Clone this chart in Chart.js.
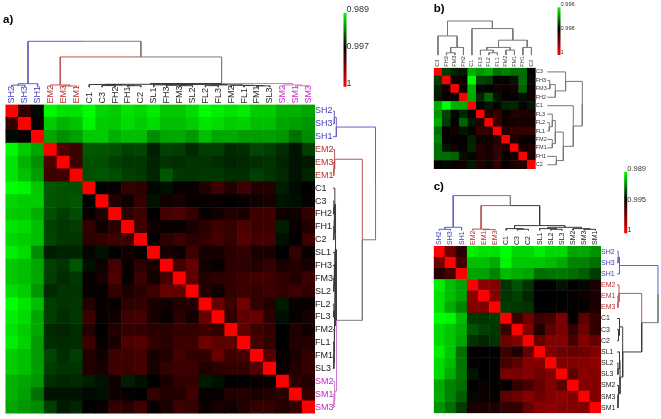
<!DOCTYPE html>
<html>
<head>
<meta charset="utf-8">
<title>Correlation heatmaps</title>
<script src="https://cdn.jsdelivr.net/npm/chart.js@4/dist/chart.umd.min.js"></script>
<style>
  body { margin: 0; background: #fff; }
  #page { position: relative; width: 661px; height: 419px; overflow: hidden; }
  #page canvas { position: absolute; left: 0; top: 0; }
</style>
</head>
<body>
<div id="page"></div>
<script>
// Sample order, same for rows and columns
const labelsA = ['SH2','SH3','SH1','EM2','EM3','EM1','C1','C3','FH2','FH1','C2','SL1','FH3','FM3','SL2','FL2','FL3','FM2','FL1','FM1','SL3','SM2','SM1','SM3'];
const labelsB = ['C3','FH3','FM3','FH2','C1','FL3','FL2','FL1','FM2','FM1','FH1','C2'];
const labelsC = ['SH2','SH3','SH1','EM2','EM1','EM3','C1','C3','C2','SL1','SL2','SL3','SM2','SM3','SM1'];

// Upper triangle of each matrix, as (1 - correlation) x 10^4
const distA = [
  [24,33,108,101,101,110,97,94,102,97,104,93,93,99,110,105,101,104,94,94,86,86,82],
  [29,94,86,91,107,94,93,99,94,99,90,90,94,102,99,94,96,90,90,82,80,77],
  [82,75,80,93,94,85,90,90,74,82,83,77,90,82,83,79,79,80,77,65,74],
  [21,23,58,57,55,50,52,39,50,49,43,49,49,43,44,52,49,44,36,49],
  [23,55,55,49,47,47,41,46,44,46,46,44,41,43,44,46,41,36,38],
  [55,57,54,49,47,41,57,47,46,47,47,44,44,49,46,43,36,41],
  [31,29,24,25,32,35,29,29,26,23,26,23,26,26,39,33,30],
  [26,28,24,36,28,27,29,29,29,30,29,28,27,36,35,29],
  [25,23,30,22,21,24,29,28,26,27,23,23,28,28,24],
  [23,28,29,29,27,25,23,24,21,23,23,39,29,26],
  [30,25,23,25,24,22,24,20,22,22,35,30,23],
  [27,28,23,27,27,25,24,27,27,30,24,29],
  [22,18,28,29,25,25,26,24,27,26,27],
  [19,26,25,24,23,22,23,24,26,23],
  [26,28,24,23,24,23,24,23,24],
  [18,23,17,24,26,38,29,29],
  [24,19,18,25,35,29,27],
  [19,23,24,30,26,28],
  [22,24,30,26,26],
  [20,29,27,24],
  [29,26,24],
  [25,26],
  [24]
];
const distB = [
  [24.7,22.7,22,33.3,31.8,33.3,28.6,30.2,28.6,28.6,19.6],
  [18.4,19.2,40,25.5,24.7,19.6,19.4,21.6,28.6,20.6],
  [19.2,34,20.6,19.8,18.4,19.6,18.4,27.8,19.4],
  [33.3,23,27.8,21.6,19.6,19.6,21,18.8],
  [19.8,22,20.4,22.7,23,20.4,22],
  [17.3,15.7,19.2,17.3,17.6,17.6],
  [16.1,19,18.4,18,18.8],
  [16.9,16.1,16.1,16.1],
  [17.6,19.6,19.6],
  [18.4,17.6],
  [17.6]
];
const distC = [
  [28.4,42,106,103,103,110,101,101,106,101,101,89,90,85],
  [36,95,95,90,108,97,97,97,94,90,81,81,76],
  [89,88,81,94,91,89,76,77,78,76,72,64],
  [22.5,24.5,63,69,62,50,49.6,55,50,52,45],
  [24.5,62,65,59,50,50,50,48.5,48,45],
  [64,63,62,50,50,50,49.5,49,45],
  [38,28.4,38,36,26.5,49,32,40],
  [24.5,44,32,26.5,40,28.4,40],
  [30,24.5,24.5,36,24.5,30],
  [24.5,28.4,30,28.4,24.5],
  [24.5,24.5,24.5,22.5],
  [32,22.5,24.5],
  [24.5,24.5],
  [24.5]
];

// Clusters: [child, child, height on top tree, height on right tree].
// A child is a sample name or the row number of an earlier merge.
const mergesA = [
  ['SH2','SH3',2,1.5], [0,'SH1',3.5,3.5], ['EM3','EM1',1.2,1], ['EM2',2,2.2,1.8],
  ['C3','FH2',1.6,1], ['FH1','C2',1.5,1], [4,5,2,1.5], ['C1',6,2.7,2],
  ['FM3','SL2',1.5,1], ['FH3',8,2,1.5], ['SL1',9,2.3,2],
  ['FL2','FL3',1.5,1], ['FM1','SL3',1.3,1], ['FL1',12,1.6,1.2], ['FM2',13,1.9,1.5], [11,14,2.3,1.8],
  [10,15,2.6,2.3], [7,16,2.9,2.7],
  ['SM1','SM3',1.5,1], ['SM2',18,2.2,1.8],
  [17,19,3.7,3.7], [3,20,30.5,29.7], [1,21,46.3,43]
];
const mergesB = [
  ['FH3','FM3',2.3,2.5], [0,'FH2',7.7,8], ['C3',1,19.3,18.3],
  ['FL2','FL1',2.3,2], ['FL3',3,5,5], ['FM2','FM1',5,5], [4,5,7.7,8],
  ['FH1','C2',7.7,9], [6,7,15,16], ['C1',8,26.7,26], [2,9,34.3,35]
];
const mergesC = [
  ['SH2','SH3',1,1.2], [0,'SH1',3,2.5], ['EM1','EM3',0.7,1], ['EM2',2,1.2,2],
  ['C3','C2',1,1.5], ['C1',4,1.7,2.5], ['SL2','SL3',1,1], ['SL1',6,1.7,2.5],
  ['SM3','SM1',1,1], ['SM2',8,1.7,1.5], [7,9,3,3], [5,10,4.7,5.7],
  [3,11,24.7,24.7], [1,12,34.7,41]
];

// Colour key ticks, top to bottom
const keyTicksA = [0.989, 0.997, 1];
const keyTicksB = [0.996, 0.998, 1];
const keyTicksC = [0.989, 0.995, 1];

const FONT = 'Liberation Sans, Arial, sans-serif';
const page = document.getElementById('page');

function newCanvas() {
    const c = document.createElement('canvas');
    c.width = 661;
    c.height = 419;
    page.appendChild(c);
    return c;
}

// green -> black -> red through the middle tick
function heatColor(r, ticks) {
    const [lo, mid, hi] = ticks;
    if (r >= mid) return `rgb(${Math.round(255 * Math.min(1, (r - mid) / (hi - mid)))},0,0)`;
    return `rgb(0,${Math.round(255 * Math.min(1, (mid - r) / (mid - lo)))},0)`;
}

function cellPoints(labels, dist, ticks) {
    const pts = [];
    labels.forEach((_, i) => {
        labels.forEach((__, j) => {
            let r = 1;
            if (i < j) r = 1 - dist[i][j - i - 1] / 1e4;
            if (i > j) r = 1 - dist[j][i - j - 1] / 1e4;
            pts.push({ x: j + 0.5, y: i + 0.5, color: heatColor(r, ticks) });
        });
    });
    return pts;
}

function treeDatasets(p) {
    const N = p.labels.length;
    const cell = (p.right - p.left) / N;
    const leafCol = (name) => p.treeColors[name.slice(0, 2)] || p.treeColors.other;
    const nodes = [];
    const child = (ref) => {
        if (typeof ref === 'number') return nodes[ref];
        return { pos: p.labels.indexOf(ref) + 0.5, top: 0, side: 0, col: leafCol(ref) };
    };
    const sets = [];
    const link = (pts, col) => sets.push({
        data: pts, showLine: true, pointRadius: 0, borderWidth: 1, borderColor: col, clip: false
    });
    const topY = (h) => -(p.topBand + h) / cell;
    const sideX = (h) => N + (p.sideBand + h) / cell;
    p.merges.forEach(([a, b, top, side]) => {
        const ca = child(a);
        const cb = child(b);
        const mid = (ca.pos + cb.pos) / 2;
        [ca, cb].forEach((c) => {
            // drawn from the joint down to the child
            link([{ x: mid, y: topY(top) }, { x: c.pos, y: topY(top) }, { x: c.pos, y: topY(c.top) }], c.col);
            link([{ x: sideX(side), y: mid }, { x: sideX(side), y: c.pos }, { x: sideX(c.side), y: c.pos }], c.col);
        });
        nodes.push({ pos: mid, top, side, col: ca.col === cb.col ? ca.col : p.treeColors.mixed });
    });
    return sets;
}

function heatChart(p) {
    const N = p.labels.length;
    const cell = (p.right - p.left) / N;
    const titleH = p.titleSize * 1.2;
    const tickColor = (ctx) => {
        const name = p.labels[Math.floor(ctx.tick.value)];
        return p.labelColors[name.slice(0, 2)] || p.labelColors.other;
    };
    const centerTicks = (scale) => {
        scale.ticks = p.labels.map((_, i) => ({ value: i + 0.5 }));
    };
    const tickOpts = {
        autoSkip: false,
        color: tickColor,
        font: { family: FONT, size: p.fontSize },
        callback: (v) => p.labels[Math.floor(v)]
    };
    return new Chart(newCanvas(), {
        type: 'scatter',
        data: {
            datasets: [{
                data: cellPoints(p.labels, p.dist, p.ticks),
                pointStyle: 'rect',
                pointRadius: (cell / 2 + 0.25) * Math.SQRT2,
                pointHoverRadius: 0,
                pointBorderWidth: 0,
                pointBackgroundColor: (ctx) => ctx.raw.color
            }].concat(treeDatasets(p))
        },
        options: {
            responsive: false,
            animation: false,
            events: [],
            layout: {
                autoPadding: false,
                padding: { left: p.left, top: p.titleY - titleH / 2, right: 0, bottom: 419 - p.bottom }
            },
            plugins: {
                legend: { display: false },
                tooltip: { enabled: false },
                title: {
                    display: true,
                    text: p.title,
                    align: 'start',
                    color: '#000',
                    padding: 0,
                    font: { family: FONT, size: p.titleSize, weight: 'bold', lineHeight: 1.2 }
                }
            },
            scales: {
                x: {
                    type: 'linear',
                    position: 'top',
                    min: 0,
                    max: N,
                    grid: { display: false, drawTicks: false },
                    border: { display: false },
                    afterBuildTicks: centerTicks,
                    afterFit: (s) => { s.height = p.top - (p.titleY - titleH / 2) - titleH; },
                    // rotated top labels sit one line height left of the tick
                    ticks: Object.assign({ minRotation: 90, maxRotation: 90, padding: p.tickPad, labelOffset: p.fontSize * 1.2 }, tickOpts)
                },
                y: {
                    type: 'linear',
                    position: 'right',
                    reverse: true,
                    min: 0,
                    max: N,
                    grid: { display: false, drawTicks: false },
                    border: { display: false },
                    afterBuildTicks: centerTicks,
                    afterFit: (s) => { s.width = 661 - p.right; },
                    ticks: Object.assign({ padding: 0 }, tickOpts)
                }
            }
        }
    });
}

// Colour key: one vertical line with a gradient, ticks on its right
function keyChart(k) {
    const ends = [k.barTop, k.barBottom];
    return new Chart(newCanvas(), {
        type: 'scatter',
        data: {
            datasets: [{
                data: ends.map((y) => ({ x: 0.5, y })),
                showLine: true,
                clip: false,
                pointRadius: 0,
                borderWidth: 3,
                borderColor: (ctx) => {
                    const yScale = ctx.chart.scales.y;
                    if (!yScale || !ctx.chart.chartArea) return '#000';
                    const g = ctx.chart.ctx.createLinearGradient(0, yScale.getPixelForValue(ends[0]), 0, yScale.getPixelForValue(ends[1]));
                    g.addColorStop(0, '#00ff00');
                    g.addColorStop((1 - ends[0]) / (ends[1] - ends[0]), '#000000');
                    g.addColorStop(1, '#ff0000');
                    return g;
                }
            }]
        },
        options: {
            responsive: false,
            animation: false,
            events: [],
            layout: {
                autoPadding: false,
                padding: { left: k.x - 1.5, top: k.tickTop, right: 0, bottom: 419 - k.tickBottom }
            },
            plugins: { legend: { display: false }, tooltip: { enabled: false } },
            scales: {
                x: { type: 'linear', display: false, min: 0, max: 1 },
                y: {
                    type: 'linear',
                    position: 'right',
                    reverse: true,
                    min: 0,
                    max: 2,
                    grid: { display: false, drawTicks: false },
                    border: { display: false },
                    afterBuildTicks: (s) => { s.ticks = k.ticks.map((_, i) => ({ value: i })); },
                    afterFit: (s) => { s.width = 661 - k.x - 1.5; },
                    ticks: {
                        padding: 0,
                        color: '#333',
                        font: { family: FONT, size: k.fontSize },
                        callback: (v) => String(k.ticks[v])
                    }
                }
            }
        }
    });
}

const BLUE = '#3f3fb8';
const RED = '#b93030';
const MAGENTA = '#c42cc4';
const INK = '#222';
const lineColors = { SH: '#6464c0', EM: '#bb5555', SM: '#d27ad2', other: '#3a3a3a', mixed: '#7c7c7c' };

heatChart({
    title: 'a)', titleSize: 11.5, titleY: 20, labels: labelsA, dist: distA, merges: mergesA, ticks: keyTicksA,
    left: 3, top: 104.5, right: 315, bottom: 416.5, topBand: 17.5, sideBand: 18,
    fontSize: 9, tickPad: 1,
    labelColors: { SH: BLUE, EM: RED, SM: MAGENTA, other: INK },
    treeColors: lineColors
});
heatChart({
    title: 'b)', titleSize: 11.5, titleY: 8.5, labels: labelsB, dist: distB, merges: mergesB, ticks: keyTicksB,
    left: 433.7, top: 67.7, right: 535.7, bottom: 169, topBand: 12.7, sideBand: 11.6,
    fontSize: 5.5, tickPad: 1,
    labelColors: { other: '#333' },
    treeColors: { other: '#777', mixed: '#777' }
});
heatChart({
    title: 'c)', titleSize: 11.5, titleY: 187, labels: labelsC, dist: distC, merges: mergesC, ticks: keyTicksC,
    left: 433.7, top: 246, right: 601, bottom: 413.3, topBand: 15.7, sideBand: 16,
    fontSize: 7, tickPad: 1,
    labelColors: { SH: BLUE, EM: RED, other: INK },
    treeColors: { SH: '#6464c0', EM: '#bb5555', other: '#3a3a3a', mixed: '#7c7c7c' }
});

keyChart({ x: 345, tickTop: 9.5, tickBottom: 83.7, barTop: 0.09, barBottom: 2.08, ticks: keyTicksA, fontSize: 9 });
keyChart({ x: 559, tickTop: 4.7, tickBottom: 52.7, barTop: 0.11, barBottom: 2.1, ticks: keyTicksB, fontSize: 5.7 });
keyChart({ x: 625.7, tickTop: 169, tickBottom: 230.3, barTop: 0.09, barBottom: 2.1, ticks: keyTicksC, fontSize: 7.5 });
</script>
</body>
</html>
